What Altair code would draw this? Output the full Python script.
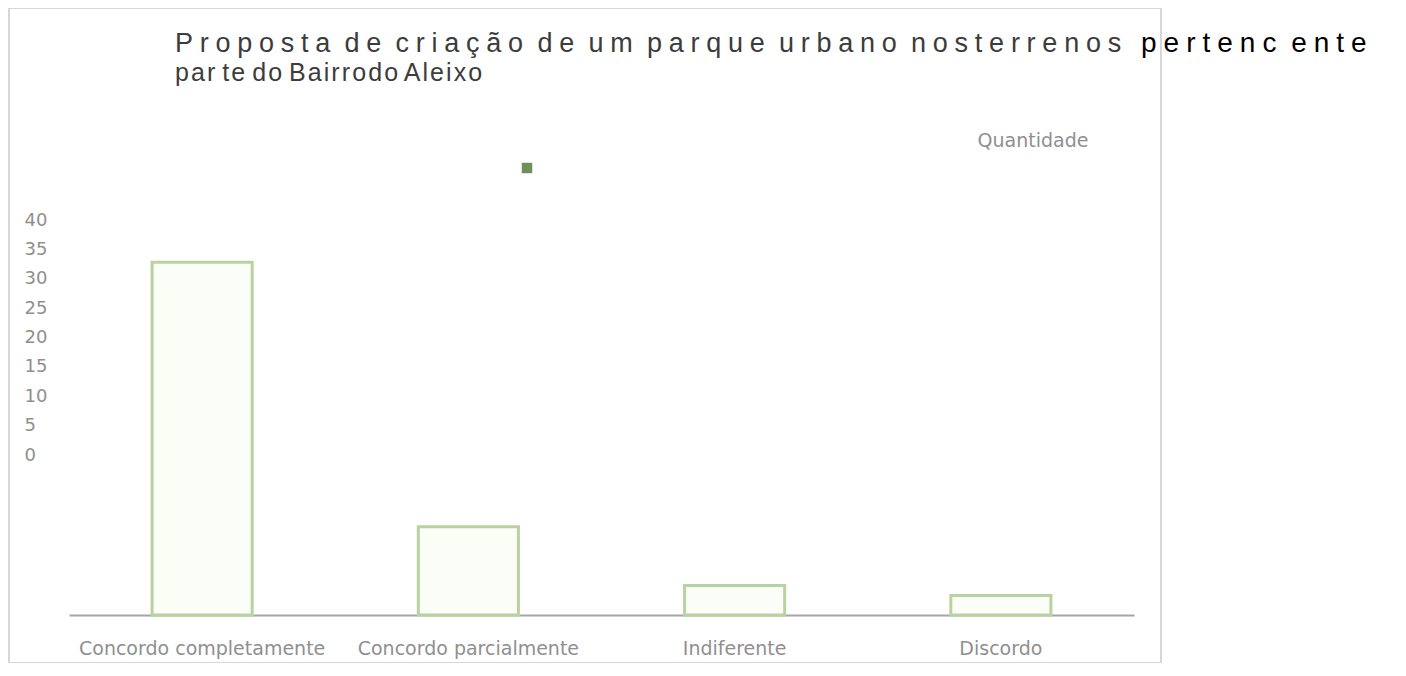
import altair as alt
import pandas as pd

# ---- data ----
categories = ["Concordo completamente", "Concordo parcialmente", "Indiferente", "Discordo"]
quantities = [36, 9, 3, 2]
y_tick_labels = [0, 5, 10, 15, 20, 25, 30, 35, 40]
series_name = "Quantidade"
title_line1_words = ["Proposta", "de", "criação", "de", "um", "parque", "urbano", "nosterrenos"]
title_line2_words = ["par", "te", "do", "Bairrodo", "Aleixo"]
title_tail_words = ["pertenc", "ente"]


def spaced(words, sp, wsp):
    return wsp.join(sp.join(w) for w in words)


line1 = spaced(title_line1_words, "\u2005", "\u00a0\u2005")
line2 = spaced(title_line2_words, "\u200a", " ")
tail = spaced(title_tail_words, "\u2005", "\u00a0\u2005")

df = pd.DataFrame({"categoria": categories, "quantidade": quantities})
ticks_df = pd.DataFrame({"v": y_tick_labels})
legend_df = pd.DataFrame({"serie": [series_name]})
tail_df = pd.DataFrame({"t": [tail]})

LABEL_FONT = "DejaVu Sans"
LABEL_COLOR = "#8f8f8f"
TITLE_FONT = "Liberation Sans"

bars = alt.Chart(df).mark_bar(
    fill="#fbfdf7", stroke="#b9d2a1", strokeWidth=3
).encode(
    x=alt.X(
        "categoria:N",
        sort=categories,
        scale=alt.Scale(range=[60, 1125], paddingInner=0.624, paddingOuter=0.312),
        axis=alt.Axis(
            title=None, orient="bottom", offset=-48, labelAngle=0,
            labelFont=LABEL_FONT, labelFontSize=19, labelColor=LABEL_COLOR,
            labelPadding=24, ticks=False, tickSize=0, domainColor="#a6a6a6",
            domainWidth=2, grid=False, labelLimit=400,
        ),
    ),
    y=alt.Y("quantidade:Q", scale=alt.Scale(domain=[0, 40], range=[607, 215]), axis=None),
)

yaxis = alt.Chart(ticks_df).mark_point(opacity=0, size=1).encode(
    y=alt.Y(
        "v:Q",
        scale=alt.Scale(domain=[0, 40], range=[447, 212]),
        axis=alt.Axis(
            title=None, orient="left", offset=-15, values=y_tick_labels,
            labelAlign="left", labelBaseline="middle", labelPadding=0,
            ticks=False, tickSize=0, domain=False, grid=False, minExtent=0,
            labelFont=LABEL_FONT, labelFontSize=18, labelColor=LABEL_COLOR,
        ),
    ),
    x=alt.value(0),
)

legend_sq = alt.Chart(legend_df).mark_square(size=110, color="#70905a", opacity=1).encode(
    x=alt.value(518), y=alt.value(160)
)
legend_txt = alt.Chart(legend_df).mark_text(
    font=LABEL_FONT, fontSize=19, color=LABEL_COLOR, align="center", baseline="middle"
).encode(text="serie:N", x=alt.value(1024), y=alt.value(133))

tail_txt = alt.Chart(tail_df).mark_text(
    font=TITLE_FONT, fontSize=28, color="#000000", align="left", baseline="alphabetic"
).encode(text="t:N", x=alt.value(1132), y=alt.value(44))

chart = alt.layer(bars, yaxis, legend_sq, legend_txt, tail_txt).resolve_scale(
    y="independent"
).properties(
    width=1152,
    height=655,
    padding=0,
    background="white",
    title=alt.TitleParams(
        text=line1, subtitle=line2, anchor="start", frame="group", dx=166, offset=-79,
        font=TITLE_FONT, fontSize=27, fontWeight="normal", color="#3c3c3c",
        subtitleFont=TITLE_FONT, subtitleFontSize=25, subtitleColor="#3c3c3c",
        subtitlePadding=3,
    ),
).configure_view(stroke="#d6d6d6", strokeWidth=2)

chart.save("out.html", embed_options={"renderer": "svg", "actions": False})
